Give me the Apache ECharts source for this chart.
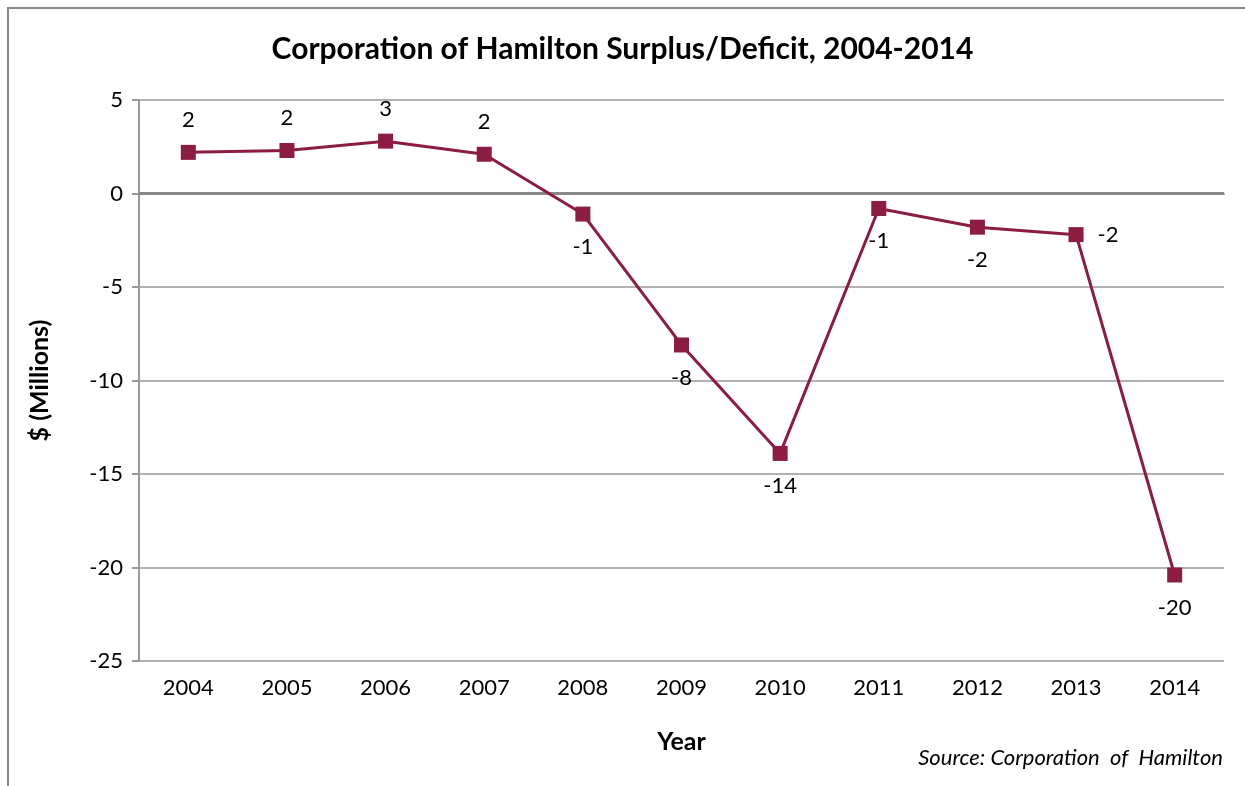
<!DOCTYPE html>
<html>
<head>
<meta charset="utf-8">
<script src="https://cdn.jsdelivr.net/npm/echarts@6/dist/echarts.min.js"></script>
<style>
  html, body { margin: 0; padding: 0; background: #fff; }
  #chart { width: 1245px; height: 786px; }
</style>
</head>
<body>
<div id="chart"></div>
<script>
var years = ['2004', '2005', '2006', '2007', '2008', '2009', '2010', '2011', '2012', '2013', '2014'];
var surplus = [2.2, 2.3, 2.8, 2.1, -1.1, -8.1, -13.9, -0.8, -1.8, -2.2, -20.4];
var labelPos = ['top', 'top', 'top', 'top', 'bottom', 'bottom', 'bottom', 'bottom', 'bottom', 'right', 'bottom'];

var chart = echarts.init(document.getElementById('chart'));
var font = 'Lato, "Open Sans", sans-serif';

var points = surplus.map(function (v, i) {
  return { value: v, label: { position: labelPos[i] } };
});

var option = {
  animation: false,
  textStyle: { fontFamily: font },
  title: {
    text: 'Corporation of Hamilton Surplus/Deficit, 2004-2014',
    left: 'center',
    top: 29,
    textStyle: { fontFamily: font, fontSize: 30, fontWeight: 'bold', color: '#000' }
  },
  graphic: [
    {
      type: 'polyline',
      shape: { points: [[8, 786], [8, 8], [1250, 8]] },
      style: { stroke: '#888', lineWidth: 2, fill: null }
    },
    {
      type: 'text',
      right: 22,
      top: 747,
      style: { text: 'Source: Corporation  of  Hamilton', font: 'italic 22px ' + font, fill: '#000' }
    }
  ],
  grid: { left: 139, right: 21, top: 100, bottom: 125 },
  xAxis: {
    type: 'category',
    data: years,
    name: 'Year',
    nameLocation: 'middle',
    nameGap: 68,
    nameTextStyle: { fontFamily: font, fontSize: 25, fontWeight: 'bold', color: '#000' },
    axisLine: { lineStyle: { color: '#999', width: 2 } },
    axisTick: { show: false },
    axisLabel: { fontFamily: font, fontSize: 22, color: '#000', margin: 16 },
    splitLine: { show: false }
  },
  yAxis: {
    type: 'value',
    min: -25,
    max: 5,
    interval: 5,
    name: '$ (Millions)',
    nameLocation: 'middle',
    nameGap: 87,
    nameRotate: 90,
    nameTextStyle: { fontFamily: font, fontSize: 25, fontWeight: 'bold', color: '#000' },
    axisLine: { show: true, onZero: false, lineStyle: { color: '#999', width: 2 } },
    axisTick: { show: true, length: 7, lineStyle: { color: '#999', width: 2 } },
    axisLabel: { fontFamily: font, fontSize: 22, color: '#000', margin: 16 },
    splitLine: {
      show: true,
      lineStyle: { color: '#999', width: 1.5 }
    }
  },
  series: [
    {
      type: 'line',
      data: points,
      symbol: 'rect',
      symbolSize: 15,
      lineStyle: { color: '#8C1C42', width: 3 },
      itemStyle: { color: '#8C1C42' },
      label: {
        show: true,
        distance: 14,
        fontFamily: font,
        fontSize: 22,
        color: '#000',
        formatter: function (p) { return String(Math.round(p.value)); }
      },
      markLine: {
        silent: true,
        symbol: 'none',
        label: { show: false },
        lineStyle: { color: '#888', width: 3, type: 'solid' },
        data: [{ yAxis: 0 }]
      },
      z: 5
    }
  ]
};

chart.setOption(option);
</script>
</body>
</html>
